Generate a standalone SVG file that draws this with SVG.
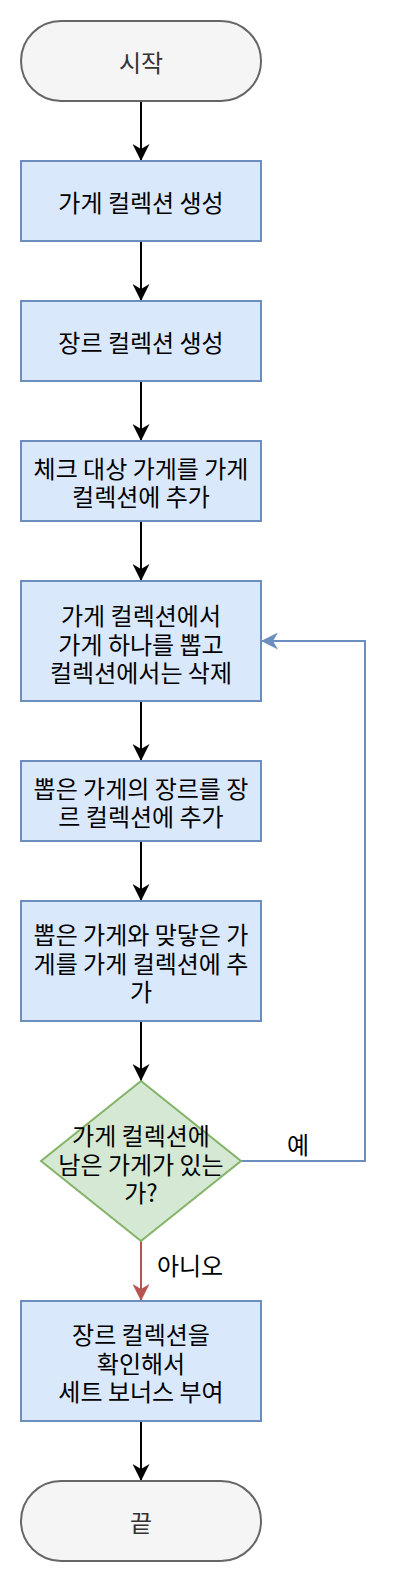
<svg xmlns="http://www.w3.org/2000/svg" width="402" height="1582" viewBox="0 0 402 1582">
<style>
text{font-family:"Noto Sans CJK KR","Noto Sans",sans-serif;font-size:24px;fill:#000;text-anchor:middle;dominant-baseline:central}
.term{fill:#f5f5f5;stroke:#666666;stroke-width:2}
.proc{fill:#dae8fc;stroke:#6c8ebf;stroke-width:2}
.dec{fill:#d5e8d4;stroke:#82b366;stroke-width:2}
.term-t{fill:#333333}
.c{fill:none;stroke-width:2}
</style>
<defs>
<marker id="ab" markerUnits="userSpaceOnUse" markerWidth="17" markerHeight="17" refX="17" refY="8.5" orient="auto" viewBox="0 0 17 17"><path d="M17,8.5 L0,0 L5,8.5 L0,17 Z" fill="#000"/></marker>
<marker id="au" markerUnits="userSpaceOnUse" markerWidth="17" markerHeight="17" refX="17" refY="8.5" orient="auto" viewBox="0 0 17 17"><path d="M17,8.5 L0,0 L5,8.5 L0,17 Z" fill="#6c8ebf"/></marker>
<marker id="ar" markerUnits="userSpaceOnUse" markerWidth="17" markerHeight="17" refX="17" refY="8.5" orient="auto" viewBox="0 0 17 17"><path d="M17,8.5 L0,0 L5,8.5 L0,17 Z" fill="#b85450"/></marker>
</defs>
<g id="connectors">
<path class="c" stroke="#000" d="M141,101 V161" marker-end="url(#ab)"/>
<path class="c" stroke="#000" d="M141,241 V301" marker-end="url(#ab)"/>
<path class="c" stroke="#000" d="M141,381 V441" marker-end="url(#ab)"/>
<path class="c" stroke="#000" d="M141,521 V581" marker-end="url(#ab)"/>
<path class="c" stroke="#000" d="M141,701 V761" marker-end="url(#ab)"/>
<path class="c" stroke="#000" d="M141,841 V901" marker-end="url(#ab)"/>
<path class="c" stroke="#000" d="M141,1021 V1081" marker-end="url(#ab)"/>
<path class="c" stroke="#6c8ebf" d="M241,1161 H365 V641 H261" marker-end="url(#au)"/>
<path class="c" stroke="#b85450" d="M141,1241 V1301" marker-end="url(#ar)"/>
<path class="c" stroke="#000" d="M141,1421 V1481" marker-end="url(#ab)"/>
<text x="298" y="1143">예</text>
<text x="190" y="1264">아니오</text>
</g>
<g id="start"><rect class="term" x="21" y="21" width="240" height="80" rx="40"/><text class="term-t" x="141" y="61">시작</text></g>
<g id="n1"><rect class="proc" x="21" y="161" width="240" height="80"/><text x="141" y="201">가게 컬렉션 생성</text></g>
<g id="n2"><rect class="proc" x="21" y="301" width="240" height="80"/><text x="141" y="341">장르 컬렉션 생성</text></g>
<g id="n3"><rect class="proc" x="21" y="441" width="240" height="80"/><text x="141" y="467">체크 대상 가게를 가게</text><text x="141" y="495">컬렉션에 추가</text></g>
<g id="n4"><rect class="proc" x="21" y="581" width="240" height="120"/><text x="141" y="614">가게 컬렉션에서</text><text x="141" y="643">가게 하나를 뽑고</text><text x="141" y="671">컬렉션에서는 삭제</text></g>
<g id="n5"><rect class="proc" x="21" y="761" width="240" height="80"/><text x="141" y="787">뽑은 가게의 장르를 장</text><text x="141" y="815">르 컬렉션에 추가</text></g>
<g id="n6"><rect class="proc" x="21" y="901" width="240" height="120"/><text x="141" y="933">뽑은 가게와 맞닿은 가</text><text x="141" y="962">게를 가게 컬렉션에 추</text><text x="141" y="990">가</text></g>
<g id="d1"><path class="dec" d="M141,1081 L241,1161 L141,1241 L41,1161 Z"/><text x="141" y="1134">가게 컬렉션에</text><text x="141" y="1163">남은 가게가 있는</text><text x="141" y="1191">가?</text></g>
<g id="n7"><rect class="proc" x="21" y="1301" width="240" height="120"/><text x="141" y="1333">장르 컬렉션을</text><text x="141" y="1362">확인해서</text><text x="141" y="1390">세트 보너스 부여</text></g>
<g id="end"><rect class="term" x="21" y="1481" width="240" height="80" rx="40"/><text class="term-t" x="141" y="1521">끝</text></g>
</svg>
